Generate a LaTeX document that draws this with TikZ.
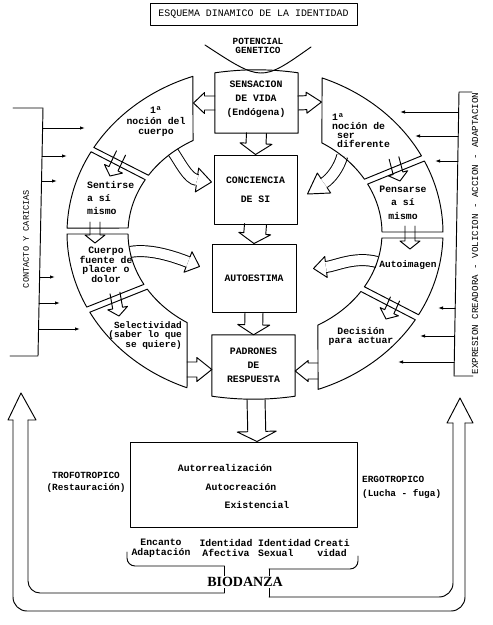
\documentclass[tikz,border=0pt]{standalone}
\usepackage{fontspec}
\setmonofont{Liberation Mono}
\newfontfamily\serifbio{Liberation Serif}
\usetikzlibrary{calc,arrows.meta}
\newcommand\tfb[2]{\fontsize{#1pt}{#2pt}\selectfont\ttfamily\bfseries}
\newcommand\tfr[2]{\fontsize{#1pt}{#2pt}\selectfont\ttfamily}
% hollow straight arrow: start, tip, shaft half, head half, head length
\newcommand\hollowarr[5]{%
  \path ($(#2)!#5!(#1)$) coordinate (hbase);
  \draw[ln] ($(#1)!#3!90:(#2)$) -- ($(hbase)!#3!90:(#2)$) -- ($(hbase)!#4!90:(#2)$) -- (#2)
     -- ($(hbase)!#4!-90:(#2)$) -- ($(hbase)!#3!-90:(#2)$) -- ($(#1)!#3!-90:(#2)$);
}
% hollow curved arrow: start, c1, c2, base, tip, shaft half, head half, double distance
\newcommand\curvearr[8]{%
  \draw[line width=0.95pt, double=white, double distance=#8] (#1) .. controls (#2) and (#3) .. (#4);
  \draw[ln] ($(#4)!#6!90:(#5)$) -- ($(#4)!#7!90:(#5)$) -- (#5) -- ($(#4)!#7!-90:(#5)$) -- ($(#4)!#6!-90:(#5)$);
}
% ring segment: outer start, outer end, inner start, inner end
\newcommand\ringseg[4]{%
  \draw[ln] ($(C)+(#1:188 and 166)$) arc[start angle=#1, end angle=#2, x radius=188, y radius=166]
    -- ($(C)+(#3:127 and 106)$) arc[start angle=#3, end angle=#4, x radius=127, y radius=106] -- cycle;
}
\begin{document}
\begin{tikzpicture}[x=1pt,y=-1pt,
  ln/.style={line width=0.95pt, line cap=round, line join=round},
  lbl/.style={inner sep=0pt, align=center},
  smallarr/.style={-{Latex[length=5pt,width=3.5pt]}}]
\useasboundingbox (0,0) rectangle (493,625);
\coordinate (C) at (255,233);

% title
\node[draw, ln, minimum width=207pt, minimum height=22pt, inner sep=0pt, font=\tfr{9.9}{10}] (title) at (253.5,14.5) {ESQUEMA DINAMICO DE LA IDENTIDAD};

% potencial genetico
\node[lbl, font=\tfb{9.4}{8.5}] (pot) at (258,46) {POTENCIAL\\GENETICO};
\draw[ln] (205,45) .. controls (261.5,82) .. (311,47);

% central boxes
\node[minimum width=83pt, minimum height=60pt, inner sep=0pt] (sens) at (256.5,103) {};
\draw[ln] (sens.north west) .. controls +(28,-4) and +(-28,-4) .. (sens.north east) -- (sens.south east) -- (sens.south west) -- cycle;
\node[lbl, font=\tfb{9.8}{14}] (sensT) at (256,99) {SENSACION\\DE VIDA\\(Endógena)};

\node[draw, ln, minimum width=83pt, minimum height=69pt, lbl, font=\tfb{9.8}{19}] (conc) at (255.5,189.5) {CONCIENCIA\\DE SI};
\node[draw, ln, minimum width=84pt, minimum height=68pt, lbl, font=\tfb{9.8}{14}] (auto) at (254,278) {AUTOESTIMA};
\node[minimum width=83pt, minimum height=61pt, lbl, font=\tfb{9.8}{14}] (padr) at (253.5,365.5) {PADRONES\\DE\\RESPUESTA};
\draw[ln] (padr.south west) -- (padr.north west) -- (padr.north east) -- (padr.south east) .. controls +(-28,4) and +(28,4) .. (padr.south west);

\node[draw, ln, minimum width=227pt, minimum height=85pt] (big) at (243.5,484.5) {};
\node[lbl, font=\tfb{9.8}{10}] (autor) at (225,468) {Autorrealización};
\node[lbl, font=\tfb{9.8}{10}] (autoc) at (241,487) {Autocreación};
\node[lbl, font=\tfb{9.8}{10}] (exist) at (257,505) {Existencial};

% vertical hollow arrows
\hollowarr{sens.south}{conc.north}{10pt}{16pt}{11pt}
\hollowarr{conc.south}{auto.north}{11pt}{16pt}{10pt}
\hollowarr{auto.south}{padr.north}{9pt}{16pt}{10pt}
\coordinate (padrB) at ($(padr.south)+(2.5,3)$);
\coordinate (bigT) at ($(big.north)+(13.5,0)$);
\hollowarr{padrB}{bigT}{9pt}{19.5pt}{10pt}

% curved arrows (drawn before ring)
\coordinate (c1s) at ($(C)+(229.8:127 and 106)$);
\coordinate (c1b) at (197,180);
\coordinate (c1t) at ($(conc.west)+(-2,-7.5)$);
\curvearr{c1s}{180,162}{188,179}{c1b}{c1t}{5.5pt}{12pt}{10.05pt}
\coordinate (c2s) at ($(C)+(313.4:127 and 106)$);
\coordinate (c2b) at (324,183);
\coordinate (c2t) at ($(conc.east)+(10,4.5)$);
\curvearr{c2s}{339,168}{330.7,178.7}{c2b}{c2t}{5.5pt}{12pt}{10.05pt}
\coordinate (c3s) at ($(C)+(169.7:127 and 106)$);
\coordinate (c3b) at (188,262);
\coordinate (c3t) at ($(auto.west)+(-12,-11.5)$);
\curvearr{c3s}{152,248}{179.6,258.8}{c3b}{c3t}{5.5pt}{11pt}{10.05pt}
\coordinate (c4s) at ($(C)+(15.9:127 and 106)$);
\coordinate (c4b) at (326,267);
\coordinate (c4t) at ($(auto.east)+(17,-9.5)$);
\curvearr{c4s}{355,256}{335.9,265.9}{c4b}{c4t}{5.5pt}{10.5pt}{10.05pt}

% ring segments
\ringseg{250.7}{211.0}{213.0}{240.8}
\ringseg{209.3}{181.7}{182.7}{210.2}
\ringseg{179.65}{153.5}{151.0}{179.46}
\ringseg{151.5}{111.2}{122.3}{148.0}
\ringseg{290.9}{332.3}{329.5}{301.8}
\ringseg{334.3}{359.65}{359.46}{332.5}
\ringseg{1.73}{29.5}{30.5}{2.70}
\ringseg{31.5}{70.4}{60.3}{33.5}

% segment labels
\node[lbl, font=\tfb{9.8}{10.5}] (s1T) at (156,122) {1ª\\noción del\\cuerpo};
\node[lbl, align=left, anchor=west, font=\tfb{9.8}{13}] (s2T) at (87,198) {Sentirse\\a sí\\mismo};
\node[lbl, font=\tfb{9.8}{9}] (s3T) at (106,264.5) {Cuerpo\\fuente de\\placer o\\dolor};
\node[lbl, align=right, anchor=east, font=\tfb{9.4}{8.7}] (s4T) at (182,335.5) {Selectividad\\(saber lo que\\se quiere)};
\node[lbl, align=left, anchor=west, font=\tfb{9.8}{9}] (s5T) at (332,130.5) {1ª\\noción de\\\hspace*{5pt}ser\\\hspace*{5pt}diferente};
\node[lbl, font=\tfb{9.8}{13.5}] (s6T) at (403,202.5) {Pensarse\\a sí\\mismo};
\node[lbl, font=\tfb{9.5}{10}] (s7T) at (408,265) {Autoimagen};
\node[lbl, font=\tfb{9.8}{9}] (s8T) at (361,336.5) {Decisión\\para actuar};

% side hollow arrows
\coordinate (s1R) at (193.5,103);
\hollowarr{sens.west}{s1R}{7pt}{10.5pt}{11pt}
\coordinate (s5L) at (321.5,102);
\hollowarr{sens.east}{s5L}{7pt}{10.5pt}{15pt}
\coordinate (s4R) at (187,369.5);
\coordinate (padrW) at ($(padr.west)+(0,4)$);
\hollowarr{s4R}{padrW}{7.5pt}{12pt}{15pt}
\coordinate (s8L) at (318,371);
\coordinate (padrE) at ($(padr.east)+(0,5.5)$);
\hollowarr{s8L}{padrE}{8pt}{10.5pt}{13pt}

% small gap arrows
\coordinate (g1a) at (121,153); \coordinate (g1b) at (110,176);
\hollowarr{g1a}{g1b}{5pt}{10pt}{8pt}
\coordinate (g2a) at (95,222); \coordinate (g2b) at (95,243);
\hollowarr{g2a}{g2b}{5pt}{10pt}{8pt}
\coordinate (g3a) at (115,293); \coordinate (g3b) at (119,316);
\hollowarr{g3a}{g3b}{5pt}{10pt}{8pt}
\coordinate (g5a) at (394,158); \coordinate (g5b) at (400,181);
\hollowarr{g5a}{g5b}{5pt}{10pt}{8pt}
\coordinate (g6a) at (410,226); \coordinate (g6b) at (410,249);
\hollowarr{g6a}{g6b}{5pt}{10pt}{8pt}
\coordinate (g7a) at (395,299); \coordinate (g7b) at (386,319);
\hollowarr{g7a}{g7b}{5pt}{10pt}{8pt}

% left bracket: contacto y caricias
\draw[ln] (13,108) -- (43,108) -- (38,356) -- (10,356);
\foreach \yy/\xe in {128/85, 156/67, 181/57, 277/55, 303/60, 329/80}
  \draw[ln, smallarr] ({43-5*(\yy-108)/248},\yy) -- (\xe,\yy);
\node[rotate=90, inner sep=0pt, font=\tfr{8.6}{9}] (contacto) at (26,239) {CONTACTO Y CARICIAS};

% right bracket: expresion creadora
\draw[ln] (472,92) -- (459,92) -- (454,376) -- (473,376);
\foreach \yy/\xe in {112/400, 136/415, 161/435, 308/438, 336/420, 362/398}
  \draw[ln, smallarr] ({459-5*(\yy-92)/284},\yy) -- (\xe,\yy);
\node[rotate=90, inner sep=0pt, font=\tfr{9.2}{9}] (expresion) at (475,233.5) {EXPRESION CREADORA - VOLICION - ACCION - ADAPTACION};

% side texts
\node[lbl, font=\tfb{9.4}{12}] (trofo) at (86,482) {TROFOTROPICO\\(Restauración)};
\node[lbl, align=left, anchor=west, font=\tfb{9.4}{14}] (ergo) at (362,487) {ERGOTROPICO\\(Lucha - fuga)};

% bottom labels
\node[lbl, font=\tfb{9.8}{10}] (l1) at (161,548) {Encanto\\Adaptación};
\node[lbl, font=\tfb{9.8}{10}] (l2) at (226,548) {Identidad\\Afectiva};
\node[lbl, align=left, anchor=west, font=\tfb{9.8}{10}] (l3) at (258,548) {Identidad\\Sexual};
\node[lbl, font=\tfb{9.8}{10}] (l4) at (332,548) {Creati\\vidad};

% big U arrow and brackets
\draw[ln] (13,420) -- (8,420) -- (21,393) -- (36,420) -- (28,420);
\draw[ln, rounded corners=14pt] (13,420) -- (13,611) -- (465,611) -- (465,423);
\draw[ln] (453,423) -- (447,423) -- (460,398) -- (473,423) -- (465,423);
\draw[ln, rounded corners=12pt] (28,420) -- (28,593) -- (224,593);
\draw[ln] (224,593) -- (224,566);
\draw[ln, rounded corners=8pt] (224,566) -- (127,566) -- (127,552);
\draw[ln, rounded corners=8pt] (358,556) -- (358,569) -- (269,569);
\draw[ln] (269,569) -- (269,597);
\draw[ln, rounded corners=14pt] (269,597) -- (453,597) -- (453,423);
\node[fill=white, inner sep=1pt, font=\serifbio\bfseries\fontsize{14pt}{14pt}\selectfont] (bio) at (245,582) {BIODANZA};
\end{tikzpicture}
\end{document}
